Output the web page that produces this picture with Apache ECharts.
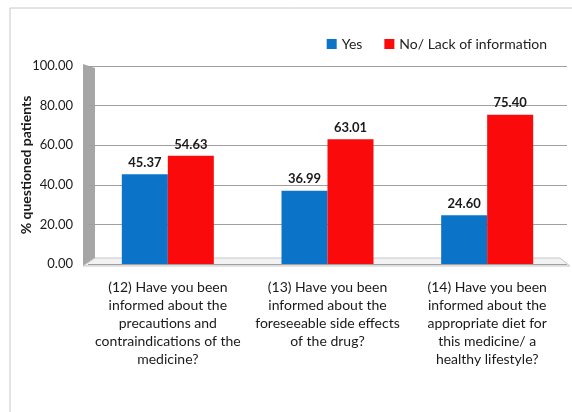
<!DOCTYPE html>
<html>
<head>
<meta charset="utf-8">
<script src="https://cdn.jsdelivr.net/npm/echarts@6/dist/echarts.min.js"></script>
<style>
    html, body { margin: 0; padding: 0; background: #fff; }
    #main { width: 572px; height: 412px; }
</style>
</head>
<body>
<div id="main"></div>
<script>
    // questions on the x axis
    var questions = [
        '(12) Have you been\ninformed about the\nprecautions and\ncontraindications of the\nmedicine?',
        '(13) Have you been\ninformed about the\nforeseeable side effects\nof the drug?',
        '(14) Have you been\ninformed about the\nappropriate diet for\nthis medicine/ a\nhealthy lifestyle?'
    ];
    var yesValues = [45.37, 36.99, 24.60];
    var noValues = [54.63, 63.01, 75.40];
    var yTicks = [0, 20, 40, 60, 80, 100];

    var font = 'Lato, "Open Sans", sans-serif';
    var chart = echarts.init(document.getElementById('main'));

    chart.setOption({
        animation: false,
        textStyle: { fontFamily: font },
        graphic: [
            // outer frame
            { type: 'rect', shape: { x: 10, y: 8, width: 600, height: 450 },
              style: { fill: 'none', stroke: '#c8c8c8', lineWidth: 1 }, silent: true },
            // grey side wall
            { type: 'polygon', shape: { points: [[83, 64], [95, 68], [95, 258], [83, 266]] },
              style: { fill: '#a6a6a6' }, silent: true, z: -1 },
            // floor
            { type: 'polygon', shape: { points: [[83, 266], [95, 258], [560, 258], [570, 266]] },
              style: { fill: '#f2f2f2', stroke: '#c8c8c8', lineWidth: 1 }, silent: true, z: -1 }
        ],
        legend: {
            right: 20,
            top: 32,
            itemWidth: 10,
            itemHeight: 10,
            itemGap: 22,
            icon: 'rect',
            textStyle: { fontSize: 14, color: '#222', fontFamily: font },
            data: ['Yes', 'No/ Lack of information']
        },
        grid: {
            left: 88,
            right: 5,
            top: 66,
            bottom: 148
        },
        xAxis: {
            type: 'category',
            data: questions,
            axisLine: { show: false },
            axisTick: { show: false },
            axisLabel: {
                interval: 0,
                margin: 14,
                fontSize: 14,
                lineHeight: 18,
                color: '#1a1a1a',
                fontFamily: font,
                align: 'center'
            }
        },
        yAxis: {
            type: 'value',
            min: yTicks[0],
            max: yTicks[yTicks.length - 1],
            interval: 20,
            name: '% questioned patients',
            nameLocation: 'middle',
            nameGap: 55,
            nameMoveOverlap: false,
            nameTextStyle: { fontSize: 14, fontWeight: 'bold', color: '#1a1a1a', fontFamily: font },
            axisLine: { show: false },
            axisTick: { show: false },
            axisLabel: {
                margin: 15,
                fontSize: 13,
                color: '#1a1a1a',
                fontFamily: font,
                formatter: function (v) { return v.toFixed(2); }
            },
            splitLine: { lineStyle: { color: '#a0a0a0', width: 1 } }
        },
        series: [{
            name: 'Yes',
            type: 'bar',
            barWidth: 46,
            barGap: '0%',
            itemStyle: { color: '#0b74c8' },
            label: {
                show: true,
                position: 'top',
                fontSize: 13,
                fontWeight: 'bold',
                color: '#1a1a1a',
                fontFamily: font,
                formatter: function (p) { return p.value.toFixed(2); }
            },
            data: yesValues
        }, {
            name: 'No/ Lack of information',
            type: 'bar',
            barWidth: 46,
            itemStyle: { color: '#fa0a0a' },
            label: {
                show: true,
                position: 'top',
                fontSize: 13,
                fontWeight: 'bold',
                color: '#1a1a1a',
                fontFamily: font,
                formatter: function (p) { return p.value.toFixed(2); }
            },
            data: noValues
        }]
    });
</script>
</body>
</html>
